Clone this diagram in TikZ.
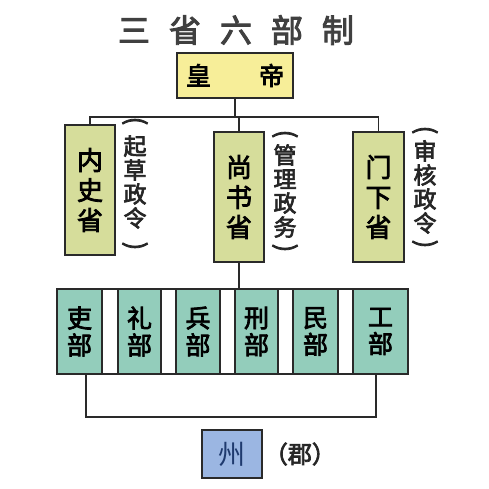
\documentclass[tikz,border=0pt]{standalone}
\usepackage{fontspec}
\newfontfamily\cjk{Noto Sans CJK SC}[FakeBold=3]
\newfontfamily\cjkthin{Noto Sans CJK SC}
\definecolor{empfill}{HTML}{F7EE99}
\definecolor{shengfill}{HTML}{D6DD9B}
\definecolor{bufill}{HTML}{93CDBB}
\definecolor{zhoufill}{HTML}{9BB6E2}
\definecolor{zhoutext}{HTML}{1F3A6E}
\definecolor{linec}{HTML}{2A2A2A}
\tikzset{
  box/.style={draw=linec, line width=1.4pt, inner sep=0pt, align=center, text=black},
  shengbox/.style={box, fill=shengfill, minimum width=50pt, minimum height=130pt, font=\cjk\fontsize{26}{30}\selectfont},
  bubox/.style={box, fill=bufill, minimum height=85pt, font=\cjk\fontsize{25}{27}\selectfont},
  vlabel/.style={inner sep=0pt, align=center, text=black!85, font=\cjk\fontsize{23}{24}\selectfont},
  vparen/.style={inner sep=0pt, rotate=-90, text=black!85, font=\cjk\fontsize{25}{25}\selectfont},
  conn/.style={draw=linec, line width=1.3pt}
}
\begin{document}
\begin{tikzpicture}[x=1pt,y=-1pt]
\useasboundingbox[fill=white] (0,0) rectangle (489,488);
% title
\node[inner sep=0pt, text=black!75, font=\cjk\fontsize{32}{34}\selectfont] (title) at (236,30)
  {三\hspace{19pt}省\hspace{19pt}六\hspace{19pt}部\hspace{19pt}制};
% emperor
\node[box, fill=empfill, minimum width=116pt, minimum height=45pt, font=\cjk\fontsize{25}{27}\selectfont] (emp) at (235,75.5)
  {皇\hspace{48pt}帝};
% three departments
\node[shengbox] (nei) at (90,190) {内\\史\\省};
\node[shengbox] (shang) at (239,197) {尚\\书\\省};
\node[shengbox, minimum width=51pt] (men) at (378.5,197) {门\\下\\省};
% labels
\node[vlabel] (neil) at (135,182) {起\\草\\政\\令};
\node[vparen] (neilo) at (135,121) {(};
\node[vparen] (neilc) at (135,246) {)};
\node[vlabel] (shangl) at (285,191) {管\\理\\政\\务};
\node[vparen] (shanglo) at (285,134) {(};
\node[vparen] (shanglc) at (285,248) {)};
\node[vlabel] (menl) at (425,187) {审\\核\\政\\令};
\node[vparen] (menlo) at (425,130) {(};
\node[vparen] (menlc) at (425,244) {)};
% connectors from emperor
\coordinate (bar) at (0,117);
\draw[conn] (emp.south) -- (emp.south |- bar);
\draw[conn] (nei.north) -- (nei.north |- bar) -- (men.north |- bar) -- (men.north);
\draw[conn] (shang.north |- bar) -- (shang.north);
% six ministries
\node[box, fill=white, minimum width=351pt, minimum height=85pt] (row) at (232.5,331.5) {};
\node[bubox, minimum width=45pt] (li) at (79.5,331.5) {吏\\部};
\node[bubox, minimum width=43pt] (lii) at (139.5,331.5) {礼\\部};
\node[bubox, minimum width=44pt] (bing) at (198,331.5) {兵\\部};
\node[bubox, minimum width=43pt] (xing) at (256.5,331.5) {刑\\部};
\node[bubox, minimum width=45pt] (min) at (315.5,331.5) {民\\部};
\node[bubox, minimum width=55pt] (gong) at (380.5,331.5) {工\\部};
\draw[conn] (shang.south) -- (shang.south |- row.north);
% bracket
\coordinate (bl) at (86,417);
\coordinate (br) at (376,417);
\draw[conn] (bl |- li.south) -- (bl) -- (br) -- (br |- gong.south);
% prefecture
\node[box, fill=zhoufill, minimum width=60pt, minimum height=48pt, text=zhoutext, font=\cjkthin\fontsize{27}{29}\selectfont] (zhou) at (232,454) {州};
\node[inner sep=0pt, anchor=west, text=black!85, font=\cjk\fontsize{24}{26}\selectfont] (jun) at ([xshift=1pt]zhou.east) {（郡）};
\end{tikzpicture}
\end{document}
